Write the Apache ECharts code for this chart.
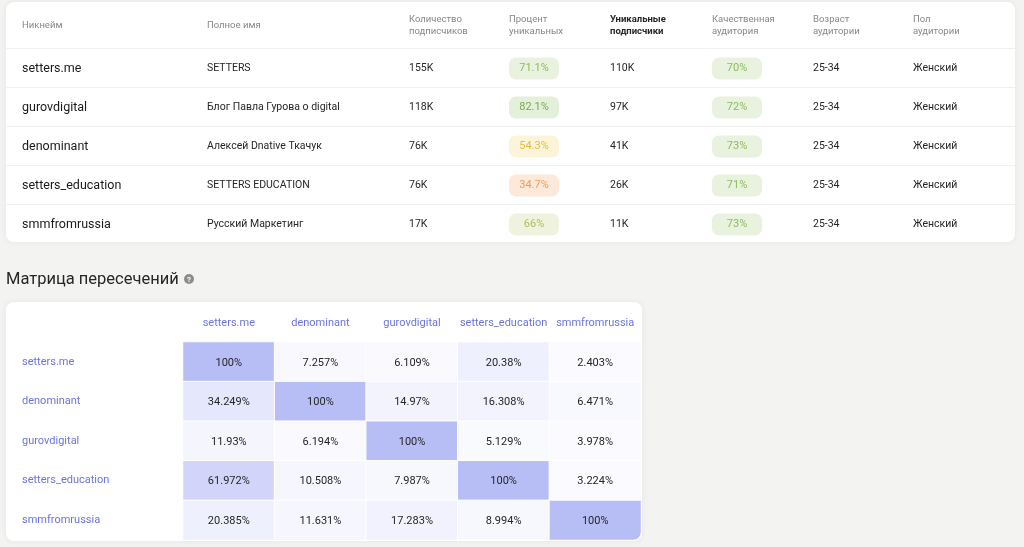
<!DOCTYPE html>
<html>
<head>
<meta charset="utf-8">
<script src="https://cdn.jsdelivr.net/npm/echarts@6/dist/echarts.min.js"></script>
<style>
  html, body { margin: 0; padding: 0; background: #f3f3f2; }
  #chart { width: 1024px; height: 547px; }
</style>
</head>
<body>
<div id="chart"></div>
<script>
var FONT = 'Roboto';

// таблица каналов
var headers = ['Никнейм', 'Полное имя', 'Количество\nподписчиков', 'Процент\nуникальных',
    'Уникальные\nподписчики', 'Качественная\nаудитория', 'Возраст\nаудитории', 'Пол\nаудитории'];
var nicknames = ['setters.me', 'gurovdigital', 'denominant', 'setters_education', 'smmfromrussia'];
var fullNames = ['SETTERS', 'Блог Павла Гурова о digital', 'Алексей Dnative Ткачук', 'SETTERS EDUCATION', 'Русский Маркетинг'];
var followers = ['155K', '118K', '76K', '76K', '17K'];
var uniquePct = [71.1, 82.1, 54.3, 34.7, 66];
var uniqueSubs = ['110K', '97K', '41K', '26K', '11K'];
var qualityPct = [70, 72, 73, 71, 73];
var ages = ['25-34', '25-34', '25-34', '25-34', '25-34'];
var genders = ['Женский', 'Женский', 'Женский', 'Женский', 'Женский'];

// матрица пересечений
var matrixCols = ['setters.me', 'denominant', 'gurovdigital', 'setters_education', 'smmfromrussia'];
var matrixRows = ['setters.me', 'denominant', 'gurovdigital', 'setters_education', 'smmfromrussia'];
var matrixValues = [
    [100, 7.257, 6.109, 20.38, 2.403],
    [34.249, 100, 14.97, 16.308, 6.471],
    [11.93, 6.194, 100, 5.129, 3.978],
    [61.972, 10.508, 7.987, 100, 3.224],
    [20.385, 11.631, 17.283, 8.994, 100]
];

// колонки таблицы (x в пикселях)
var colX = [22, 207, 409, 509, 610, 712, 813, 913];

function badgeColors(v) {
    if (v >= 80) return ['#e4f0d9', '#74ad4c'];
    if (v >= 70) return ['#e9f2de', '#8dbb5c'];
    if (v >= 60) return ['#eff3dd', '#a9c25a'];
    if (v >= 40) return ['#fbf4d8', '#e3bd3f'];
    return ['#fde9da', '#f19c57'];
}

var heatData = [];
matrixValues.forEach(function (row, r) {
    row.forEach(function (v, c) {
        var item = {value: [c, r, v]};
        // нижний правый угол карточки скруглён
        if (r === matrixRows.length - 1 && c === matrixCols.length - 1) {
            item.itemStyle = {borderRadius: [0, 0, 8, 0]};
        }
        heatData.push(item);
    });
});

function renderRow(params, api) {
    var i = api.value(1);
    var y = api.coord([0, i])[1] + 1;
    var txt = function (x, s, size, color, align) {
        return {
            type: 'text', x: x, y: y,
            style: {
                text: s, fontSize: size, fill: color, fontFamily: FONT,
                align: align || 'left', verticalAlign: 'middle'
            }
        };
    };
    var badge = function (x, v) {
        var c = badgeColors(v);
        return [
            {type: 'rect', shape: {x: x, y: y - 11, width: 50, height: 22, r: 7}, style: {fill: c[0]}},
            txt(x + 25, v + '%', 11, c[1], 'center')
        ];
    };
    var children = [
        txt(colX[0], nicknames[i], 12.5, '#1a1a1a'),
        txt(colX[1], fullNames[i], 10.5, '#262626'),
        txt(colX[2], followers[i], 10.5, '#262626'),
        txt(colX[4], uniqueSubs[i], 10.5, '#262626'),
        txt(colX[6], ages[i], 10.5, '#262626'),
        txt(colX[7], genders[i], 10.5, '#262626')
    ].concat(badge(colX[3], uniquePct[i]), badge(colX[5], qualityPct[i]));
    return {type: 'group', children: children};
}

var graphics = [
    {type: 'rect', z: -10, shape: {x: 6, y: 2, width: 1009, height: 240, r: 8},
        style: {fill: '#fff', shadowBlur: 6, shadowColor: 'rgba(0,0,0,0.06)'}},
    {type: 'rect', z: -10, shape: {x: 6, y: 302, width: 636, height: 239, r: 8},
        style: {fill: '#fff', shadowBlur: 6, shadowColor: 'rgba(0,0,0,0.06)'}},
    {type: 'text', x: 6, y: 280, style: {text: 'Матрица пересечений', fontSize: 16.5, fill: '#262626',
        fontFamily: FONT, verticalAlign: 'middle'}},
    {type: 'circle', shape: {cx: 189, cy: 279, r: 5}, style: {fill: '#8c8c8c'}},
    {type: 'text', x: 189, y: 279.5, style: {text: '?', fontSize: 8, fontWeight: 'bold', fill: '#fff',
        fontFamily: FONT, align: 'center', verticalAlign: 'middle'}}
];
headers.forEach(function (h, k) {
    graphics.push({
        type: 'text', x: colX[k], y: 26,
        style: {
            text: h, fontSize: 9.5, lineHeight: 12, fontFamily: FONT,
            fill: k === 4 ? '#262626' : '#878787', fontWeight: k === 4 ? 'bold' : 'normal',
            verticalAlign: 'middle'
        }
    });
});

var option = {
    backgroundColor: '#f3f3f2',
    animation: false,
    textStyle: {fontFamily: FONT},
    graphic: graphics,
    grid: [
        {left: 6, right: 9, top: 48, height: 195},
        {left: 183, right: 383, top: 342, bottom: 7}
    ],
    xAxis: [
        {gridIndex: 0, type: 'value', min: 0, max: 1, show: false},
        {
            gridIndex: 1, type: 'category', position: 'top', data: matrixCols,
            axisLine: {show: false}, axisTick: {show: false}, splitLine: {show: false},
            axisLabel: {color: '#6b74de', fontSize: 11, margin: 13, interval: 0, fontFamily: FONT}
        }
    ],
    yAxis: [
        {
            gridIndex: 0, type: 'category', inverse: true, data: nicknames,
            axisLine: {show: false}, axisTick: {show: false}, axisLabel: {show: false},
            splitLine: {show: true, lineStyle: {color: '#f0f0f0', width: 1}}
        },
        {
            gridIndex: 1, type: 'category', inverse: true, data: matrixRows,
            axisLine: {show: false}, axisTick: {show: false}, splitLine: {show: false},
            axisLabel: {color: '#6b74de', fontSize: 11, align: 'left', margin: 161, interval: 0,
                padding: [2, 0, 0, 0], fontFamily: FONT}
        }
    ],
    visualMap: {
        show: false, min: 0, max: 100, seriesIndex: 1,
        inRange: {color: ['#fdfdff', '#b7bdf5']}
    },
    series: [
        {
            type: 'custom', xAxisIndex: 0, yAxisIndex: 0,
            renderItem: renderRow,
            data: nicknames.map(function (n, i) { return [0, i]; })
        },
        {
            type: 'heatmap', xAxisIndex: 1, yAxisIndex: 1,
            data: heatData,
            itemStyle: {borderColor: '#fff', borderWidth: 1},
            label: {
                show: true, color: '#262626', fontSize: 11, fontFamily: FONT, offset: [0, 1],
                formatter: function (p) { return p.value[2] + '%'; }
            }
        }
    ]
};

var chart = echarts.init(document.getElementById('chart'));
chart.setOption(option);
</script>
</body>
</html>
